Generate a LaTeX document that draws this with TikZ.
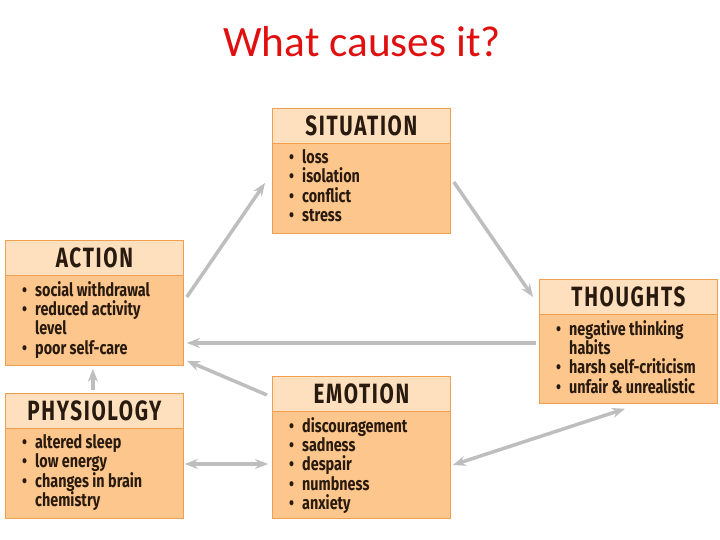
\documentclass[tikz,border=0pt]{standalone}
\usepackage{fontspec}
\setmainfont{Carlito}
\newfontfamily\headfont{Fira Sans}[FakeStretch=0.74,LetterSpace=6]
\newfontfamily\itemfont{Fira Sans}[FakeStretch=0.78]
\usetikzlibrary{arrows.meta,calc}
\definecolor{titlered}{RGB}{224,16,16}
\definecolor{boxbody}{RGB}{253,198,140}
\definecolor{boxhead}{RGB}{254,224,190}
\definecolor{boxline}{RGB}{238,160,80}
\definecolor{ink}{RGB}{40,26,14}
\definecolor{arr}{RGB}{190,190,190}
\newcommand{\bul}{\makebox[13bp][l]{\textbullet}}
\newcommand{\ind}{\hspace*{13bp}}
\tikzset{
  box/.style={draw=boxline,fill=boxbody,line width=0.8bp,minimum width=178bp,inner sep=0,anchor=north west},
  head/.style={draw=boxline,fill=boxhead,line width=0.8bp,minimum width=178bp,minimum height=35bp,inner sep=0,anchor=north west,
    text=ink,font=\headfont\bfseries\fontsize{28}{30}\selectfont},
  items/.style={anchor=north west,align=left,inner sep=0,text=ink,font=\itemfont\bfseries\fontsize{18.5}{19.5}\selectfont},
  link/.style={draw=arr,line width=3.5bp,-{Stealth[length=13bp,width=10bp]}},
  both/.style={link,{Stealth[length=13bp,width=10bp]}-{Stealth[length=13bp,width=10bp]}}
}
\begin{document}
\begin{tikzpicture}[x=1bp,y=1bp]
\useasboundingbox (0,0) rectangle (720,540);
\node[anchor=base,text=titlered,font=\fontsize{43.5}{48}\selectfont] (ttl) at (362,483) {What causes it?};
% situation
\node[box,minimum height=125bp] (sit) at (272,432) {};
\node[head] (sith) at (sit.north west) {SITUATION};
\node[items] (sitt) at ($(sit.north west)+(17,-41)$) {\bul loss\\\bul isolation\\\bul conflict\\\bul stress};
% action
\node[box,minimum height=125bp] (act) at (5,300) {};
\node[head] (acth) at (act.north west) {ACTION};
\node[items] (actt) at ($(act.north west)+(17,-41)$) {\bul social withdrawal\\\bul reduced activity\\\ind level\\\bul poor self-care};
% physiology
\node[box,minimum height=125bp] (phy) at (5,147) {};
\node[head] (phyh) at (phy.north west) {PHYSIOLOGY};
\node[items] (phyt) at ($(phy.north west)+(17,-41)$) {\bul altered sleep\\\bul low energy\\\bul changes in brain\\\ind chemistry};
% emotion
\node[box,minimum height=142bp] (emo) at (272,164) {};
\node[head] (emoh) at (emo.north west) {EMOTION};
\node[items] (emot) at ($(emo.north west)+(17,-41)$) {\bul discouragement\\\bul sadness\\\bul despair\\\bul numbness\\\bul anxiety};
% thoughts
\node[box,minimum height=124bp] (tho) at (539,261) {};
\node[head] (thoh) at (tho.north west) {THOUGHTS};
\node[items] (thot) at ($(tho.north west)+(17,-41)$) {\bul negative thinking\\\ind habits\\\bul harsh self-criticism\\\bul unfair \& unrealistic};
% arrows
\draw[link] ($(act.north east)+(3,-57)$) -- ($(sit.north west)+(-7,-75)$);
\draw[link] ($(sit.north east)+(3,-74)$) -- ($(tho.north west)+(-6,-18)$);
\draw[link] ($(tho.north west)+(-3,-64)$) -- ($(act.north east)+(3,-103)$);
\draw[link] ($(emo.north west)+(-5,-19)$) -- ($(act.south east)+(3,5)$);
\draw[both] ($(tho.south west)+(86,-5)$) -- ($(emo.north east)+(2,-89)$);
\draw[both] ($(phy.north east)+(1,-71)$) -- ($(emo.north west)+(-4,-88)$);
\draw[link] ($(phy.north)+(-1.5,3)$) -- ($(act.south)+(-1.5,-3)$);
\end{tikzpicture}
\end{document}
